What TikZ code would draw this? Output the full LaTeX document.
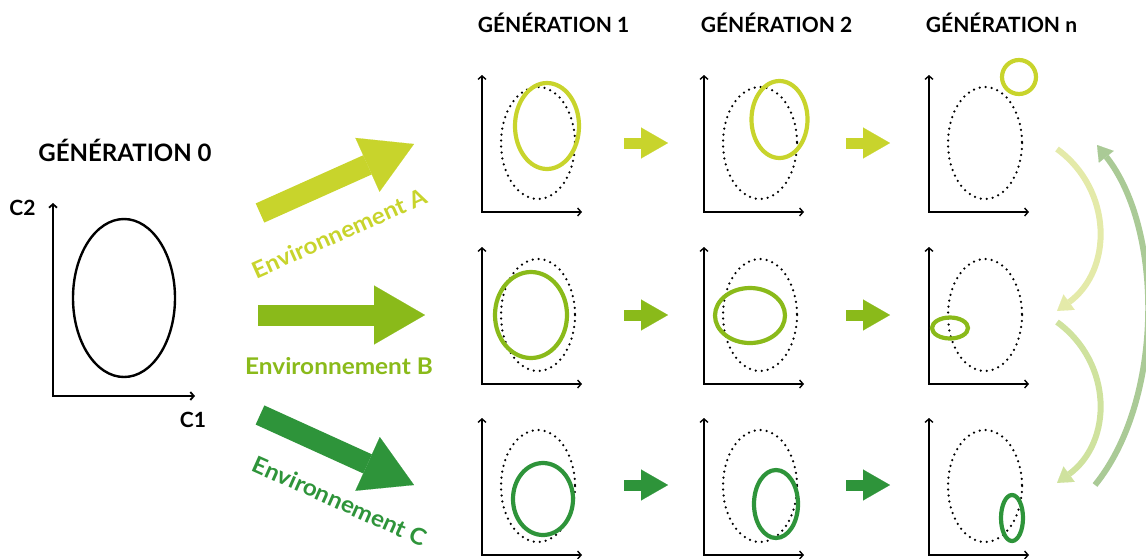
\documentclass[tikz,border=0pt]{standalone}
\usepackage{fontspec}
\setmainfont{Lato}
\newfontfamily\envfont[FakeStretch=1.06]{Lato}
\usetikzlibrary{arrows.meta}
\definecolor{envA}{HTML}{C8D42C}
\definecolor{envB}{HTML}{8ABA1A}
\definecolor{envC}{HTML}{2E943A}
\definecolor{retA}{HTML}{E4EAA9}
\definecolor{retB}{HTML}{CFE29E}
\definecolor{retC}{HTML}{AACA96}

\begin{document}
\begin{tikzpicture}[x=1pt, y=-1pt,
		axes/.style={line width=1.4pt, {Straight Barb[length=3.5pt,width=8pt]}-{Straight Barb[length=3.5pt,width=8pt]}},
		ancetre/.style={line width=2.4pt},
		trace/.style={line width=2.5pt, dash pattern=on 0pt off 6pt, line cap=round},
		descend/.style={line width=4.2pt},
		petite/.style={line width=11pt, -{Triangle[length=27pt,width=31pt,line width'=0.1pt]}},
		grande/.style={line width=21pt, -{Triangle[length=51pt,width=59pt,line width'=0.1pt]}},
		retour/.style={line width=6pt, -{Triangle[length=15pt,width=19pt,line width'=0.1pt]}},
		titre/.style={font=\bfseries\fontsize{21}{21}\selectfont, anchor=base},
		envlabel/.style={font=\envfont\bfseries\fontsize{23}{23}\selectfont, anchor=base}]
		\useasboundingbox ( 0, 0 ) rectangle ( 1146, 558 );

		% заголовки
		\node [titre, font=\bfseries\fontsize{24}{24}\selectfont] (gen0) at ( 125, 161 ) {GÉNÉRATION 0};
		\node [titre] (gen1) at ( 553.5, 32 ) {GÉNÉRATION 1};
		\node [titre] (gen2) at ( 776.5, 32 ) {GÉNÉRATION 2};
		\node [titre] (genn) at ( 1001.5, 32 ) {GÉNÉRATION n};

		% поколение 0
		\draw [axes, line width=1.8pt] ( 53, 203 ) -- ( 53, 396 ) -- ( 195, 396 );
		\draw [ancetre] ( 124, 298 ) ellipse [x radius=51, y radius=79];
		\node [titre] (c2) at ( 22.5, 215 ) {C2};
		\node [titre] (c1) at ( 193, 427 ) {C1};

		% окружения
		\coordinate (eA0) at ( 260, 213 );
		\coordinate (eA1) at ( 414, 144 );
		\coordinate (eB0) at ( 258, 315 );
		\coordinate (eB1) at ( 425, 315 );
		\coordinate (eC0) at ( 260, 415 );
		\coordinate (eC1) at ( 414, 485 );
		\draw [grande, envA] (eA0) -- (eA1);
		\draw [grande, envB] (eB0) -- (eB1);
		\draw [grande, envC] (eC0) -- (eC1);
		\node [envlabel, envA, anchor=center, rotate=24] (labA) at ( 339, 233 ) {Environnement A};
		\node [envlabel, envB] (labB) at ( 339, 374 ) {Environnement B};
		\node [envlabel, envC, anchor=center, rotate=-24] (labC) at ( 340, 501 ) {Environnement C};

		% поколение 1
		\draw [axes] ( 482, 75 ) -- ( 482, 212 ) -- ( 582, 212 );
		\draw [axes] ( 482, 247 ) -- ( 482, 384 ) -- ( 582, 384 );
		\draw [axes] ( 482, 418 ) -- ( 482, 555 ) -- ( 582, 555 );
		\draw [trace] ( 538, 143 ) ellipse [x radius=37, y radius=56];
		\draw [trace] ( 538, 315 ) ellipse [x radius=37, y radius=56];
		\draw [trace] ( 538, 486 ) ellipse [x radius=37, y radius=56];
		\draw [descend, envA] ( 547, 126 ) ellipse [x radius=32, y radius=43];
		\draw [descend, envB] ( 531, 315 ) ellipse [x radius=36, y radius=43];
		\draw [descend, envC] ( 543, 499 ) ellipse [x radius=30, y radius=36];

		% поколение 2
		\draw [axes] ( 704, 75 ) -- ( 704, 212 ) -- ( 804, 212 );
		\draw [axes] ( 704, 247 ) -- ( 704, 384 ) -- ( 804, 384 );
		\draw [axes] ( 704, 418 ) -- ( 704, 555 ) -- ( 804, 555 );
		\draw [trace] ( 760, 143 ) ellipse [x radius=37, y radius=56];
		\draw [trace] ( 760, 315 ) ellipse [x radius=37, y radius=56];
		\draw [trace] ( 760, 486 ) ellipse [x radius=37, y radius=56];
		\draw [descend, envA] ( 779.5, 119.5 ) ellipse [x radius=28, y radius=38.5];
		\draw [descend, envB] ( 750, 315.5 ) ellipse [x radius=35, y radius=27.5];
		\draw [descend, envC] ( 776, 504 ) ellipse [x radius=22, y radius=34];

		% поколение n
		\draw [axes] ( 929, 75 ) -- ( 929, 212 ) -- ( 1029, 212 );
		\draw [axes] ( 929, 247 ) -- ( 929, 384 ) -- ( 1029, 384 );
		\draw [axes] ( 929, 418 ) -- ( 929, 555 ) -- ( 1029, 555 );
		\draw [trace] ( 985, 143 ) ellipse [x radius=37, y radius=56];
		\draw [trace] ( 985, 315 ) ellipse [x radius=37, y radius=56];
		\draw [trace] ( 985, 486 ) ellipse [x radius=37, y radius=56];
		\draw [descend, envA] ( 1019, 77 ) circle [radius=17];
		\draw [descend, envB] ( 950, 328 ) ellipse [x radius=18, y radius=10.5];
		\draw [descend, envC] ( 1012, 518 ) ellipse [x radius=11, y radius=23];

		% переходы между поколениями
		\coordinate (pA0) at ( 624, 143 );
		\coordinate (pA1) at ( 668, 143 );
		\coordinate (pA2) at ( 846, 143 );
		\coordinate (pA3) at ( 890, 143 );
		\coordinate (pB0) at ( 624, 315 );
		\coordinate (pB1) at ( 668, 315 );
		\coordinate (pB2) at ( 846, 315 );
		\coordinate (pB3) at ( 890, 315 );
		\coordinate (pC0) at ( 624, 485 );
		\coordinate (pC1) at ( 668, 485 );
		\coordinate (pC2) at ( 846, 485 );
		\coordinate (pC3) at ( 890, 485 );
		\draw [petite, envA] (pA0) -- (pA1);
		\draw [petite, envA] (pA2) -- (pA3);
		\draw [petite, envB] (pB0) -- (pB1);
		\draw [petite, envB] (pB2) -- (pB3);
		\draw [petite, envC] (pC0) -- (pC1);
		\draw [petite, envC] (pC2) -- (pC3);

		% обратные стрелки
		\coordinate (rA0) at ( 1057, 149 );
		\coordinate (rA1) at ( 1057, 311 );
		\coordinate (rB0) at ( 1057, 322 );
		\coordinate (rB1) at ( 1057, 483 );
		\coordinate (rC0) at ( 1095, 485 );
		\coordinate (rC1) at ( 1097, 145 );
		\draw [retour, retA] (rA0) .. controls ( 1113, 190 ) and ( 1113, 270 ) .. (rA1);
		\draw [retour, retB] (rB0) .. controls ( 1113, 363 ) and ( 1113, 442 ) .. (rB1);
		\draw [retour, retC] (rC0) .. controls ( 1164, 400 ) and ( 1164, 230 ) .. (rC1);
	\end{tikzpicture}
\end{document}
